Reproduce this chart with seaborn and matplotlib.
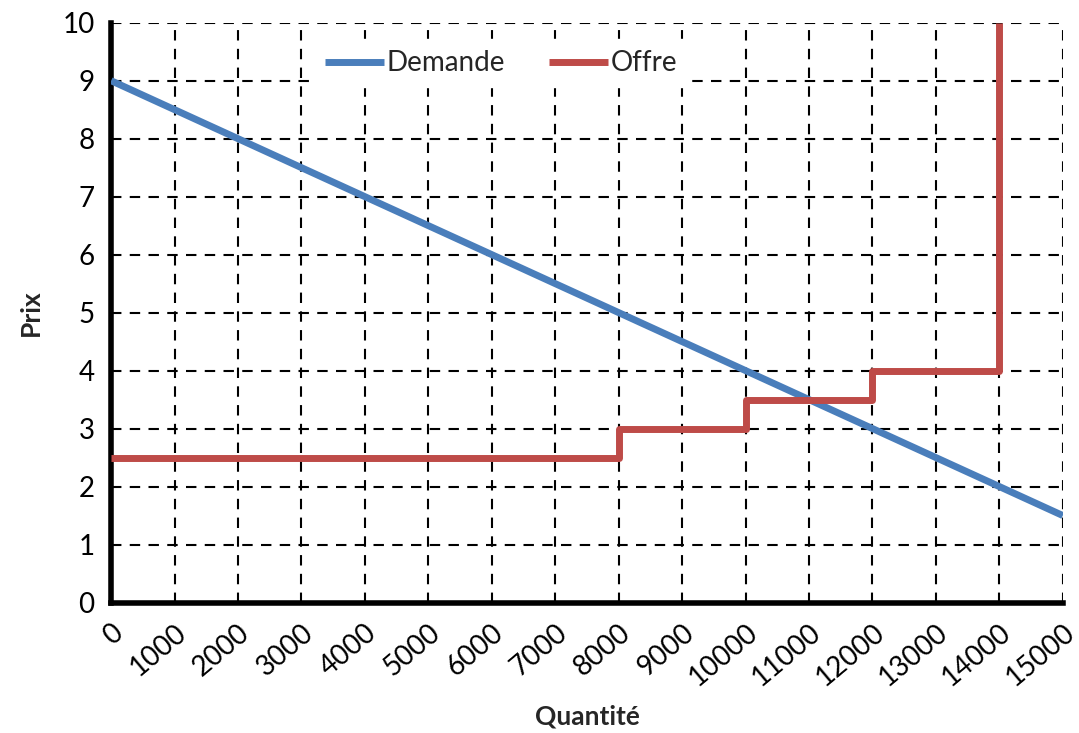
import matplotlib
matplotlib.use("Agg")
import matplotlib.pyplot as plt
import seaborn as sns
import pandas as pd

# Data
demand_q = [0, 15000]
demand_p = [9, 1.5]
supply_q = [0, 8000, 8000, 10000, 10000, 12000, 12000, 14000, 14000]
supply_p = [2.5, 2.5, 3, 3, 3.5, 3.5, 4, 4, 10]
x_ticks = list(range(0, 15001, 1000))
y_ticks = list(range(0, 11))

sns.set_theme(style="white")
plt.rcParams['font.family'] = ['Lato', 'DejaVu Sans']

fig = plt.figure(figsize=(10.79, 7.33), dpi=100)
ax = fig.add_axes([0.103, 0.178, 0.882, 0.791])

df_d = pd.DataFrame({"q": demand_q, "p": demand_p})
df_s = pd.DataFrame({"q": supply_q, "p": supply_p})
sns.lineplot(data=df_d, x="q", y="p", ax=ax, color="#4A7EBB", lw=5,
             label="Demande", sort=False, estimator=None, errorbar=None,
             zorder=3, solid_capstyle="butt")
sns.lineplot(data=df_s, x="q", y="p", ax=ax, color="#BE4B48", lw=5,
             label="Offre", sort=False, estimator=None, errorbar=None,
             zorder=3, solid_capstyle="butt")

ax.set_xlim(0, 15000)
ax.set_ylim(0, 10)
ax.set_xticks(x_ticks)
ax.set_yticks(y_ticks)
ax.set_xticklabels([str(v) for v in x_ticks], rotation=40, ha="right",
                   rotation_mode="anchor", fontsize=20)
ax.set_yticklabels([str(v) for v in y_ticks], fontsize=20)
ax.grid(True, color="black", linestyle=(0, (5, 4)), linewidth=1.5, zorder=1)
ax.set_axisbelow(True)
for s in ["top", "right"]:
    ax.spines[s].set_visible(False)
for s in ["left", "bottom"]:
    ax.spines[s].set_linewidth(4)
    ax.spines[s].set_color("black")
ax.tick_params(axis="both", which="major", direction="out", length=6, width=4,
               color="black", labelcolor="black", pad=6)
ax.set_xlabel("Quantité", fontsize=19, fontweight="bold", labelpad=10)
ax.set_ylabel("Prix", fontsize=19, fontweight="bold", labelpad=14)

leg = ax.legend(loc="center", bbox_to_anchor=(0.41, 0.93), ncol=2,
                frameon=True, fontsize=20, handlelength=2.1, handletextpad=0.1,
                columnspacing=1.6, borderaxespad=0.2)
leg.get_frame().set_facecolor("white")
leg.get_frame().set_edgecolor("white")
leg.get_frame().set_alpha(1)
leg.set_zorder(5)

fig.savefig("out.png", dpi=100)
